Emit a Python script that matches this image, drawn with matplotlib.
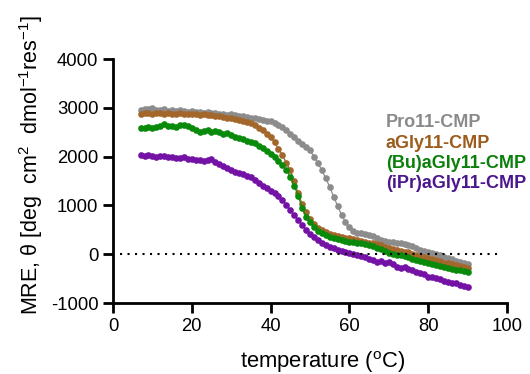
import numpy as np
import matplotlib
matplotlib.use("Agg")
import matplotlib.pyplot as plt

plt.rcParams['font.family'] = ['Liberation Sans', 'DejaVu Sans']
plt.rcParams['mathtext.fontset'] = 'custom'
plt.rcParams['mathtext.rm'] = 'Liberation Sans'
plt.rcParams['mathtext.it'] = 'Liberation Sans:italic'
plt.rcParams['axes.unicode_minus'] = False

# temperature steps (deg C)
temp = np.arange(7, 91)

pro11 = [2950, 2980, 2970, 2990, 2960, 2950,
         2970, 2940, 2950, 2930, 2960, 2940, 2920, 2930,
         2910, 2920, 2900, 2910, 2890, 2900, 2870, 2880, 2860, 2870,
         2850, 2840, 2830, 2820, 2800, 2790, 2770, 2760, 2740, 2720,
         2690, 2650, 2600, 2540, 2470, 2400, 2320, 2250, 2190, 2130,
         2000, 1870, 1720, 1560, 1380, 1180, 990, 810, 660, 560,
         470, 440, 430, 420, 400, 370, 330, 300, 280, 250,
         260, 240, 220, 210, 190, 170, 130, 90, 60, 40,
         30, 0, -20, -50, -80, -100, -130, -150, -180, -210]

agly11 = [2880, 2890, 2900, 2880, 2890, 2900,
          2880, 2890, 2880, 2870, 2890, 2880, 2870, 2880,
          2870, 2860, 2870, 2850, 2860, 2840, 2830, 2820, 2800, 2790,
          2770, 2750, 2730, 2700, 2680, 2640, 2590, 2540, 2470, 2400,
          2290, 2160, 2030, 1870, 1720, 1500, 1250, 1030, 860, 720,
          620, 540, 490, 450, 420, 400, 380, 360, 340, 330,
          310, 290, 280, 260, 240, 220, 200, 180, 150, 120,
          100, 80, 70, 50, 40, 10, -10, -30, -60, -80,
          -100, -120, -140, -170, -185, -200, -220, -240, -260, -275]

bu_agly11 = [2580, 2590, 2600, 2580, 2610, 2620,
             2660, 2630, 2620, 2600, 2640, 2650, 2620, 2590,
             2540, 2500, 2520, 2540, 2510, 2520, 2500, 2470, 2480, 2440,
             2410, 2390, 2370, 2330, 2300, 2270, 2220, 2170, 2110, 2050,
             1990, 1910, 1830, 1730, 1580, 1400, 1200, 950, 770, 650,
             560, 480, 430, 390, 350, 330, 310, 290, 270, 260,
             250, 240, 225, 210, 190, 160, 130, 100, 60, 30,
             10, -10, -20, -40, -60, -90, -110, -130, -160, -185,
             -200, -220, -240, -260, -285, -300, -320, -330, -345, -360]

ipr_agly11 = [2030, 2020, 2040, 2010, 2000, 2020,
              2010, 1990, 2000, 1980, 1970, 1990, 1960, 1950,
              1940, 1930, 1920, 1930, 1960, 1890, 1850, 1810, 1770, 1730,
              1690, 1660, 1640, 1610, 1580, 1520, 1450, 1390, 1360, 1300,
              1250, 1190, 1110, 1010, 900, 800, 700, 600, 500, 420,
              360, 300, 240, 190, 150, 120, 90, 60, 40, 20,
              10, -20, -40, -60, -90, -110, -150, -140, -180, -160,
              -200, -260, -280, -270, -300, -330, -360, -380, -400, -460,
              -470, -490, -510, -540, -560, -580, -600, -630, -650, -670]

labels = ['Pro11-CMP', 'aGly11-CMP', '(Bu)aGly11-CMP', '(iPr)aGly11-CMP']
colors = ['#8c8c8c', '#a3672b', '#0a8a0a', '#7412a6']
text_colors = ['#8a8a8a', '#9c5c1c', '#0a800a', '#4c168e']

fig = plt.figure(figsize=(5.30, 3.74), dpi=100)
ax = fig.add_axes([0.2132, 0.1898, 0.7434, 0.6524])

for y, c in zip([pro11, agly11, bu_agly11, ipr_agly11], colors):
    ax.plot(temp, y, color=c, lw=0.9, marker='o', ms=4.8, mew=0)

ax.axhline(0, xmin=0.018, xmax=0.98, color='black', lw=1.5,
           linestyle=(0, (1, 2.6)))

ax.set_xlim(0, 100)
ax.set_ylim(-1000, 4000)
ax.set_xticks([0, 20, 40, 60, 80, 100])
ax.set_yticks([-1000, 0, 1000, 2000, 3000, 4000])
for s in ['top', 'right']:
    ax.spines[s].set_visible(False)
for s in ['left', 'bottom']:
    ax.spines[s].set_linewidth(2)
ax.tick_params(width=2, length=7, labelsize=13.3, pad=3.5)

fig.text(31 / 530, 1 - 165 / 374,
         r'MRE, θ [deg  cm$^{2}$  dmol$^{-1}$res$^{-1}$]',
         rotation=90, ha='center', va='center', fontsize=15.5)
fig.text(323 / 530, 6 / 374, 'temperature ($^{\\mathrm{o}}$C)',
         ha='center', va='baseline', fontsize=15.8)

baselines = [127, 147.5, 168, 188.5]
for lab, tc, b in zip(labels, text_colors, baselines):
    fig.text(386 / 530, 1 - b / 374, lab, color=tc, fontsize=13,
             fontweight='bold', ha='left', va='baseline')

fig.savefig('out.png', dpi=100)
